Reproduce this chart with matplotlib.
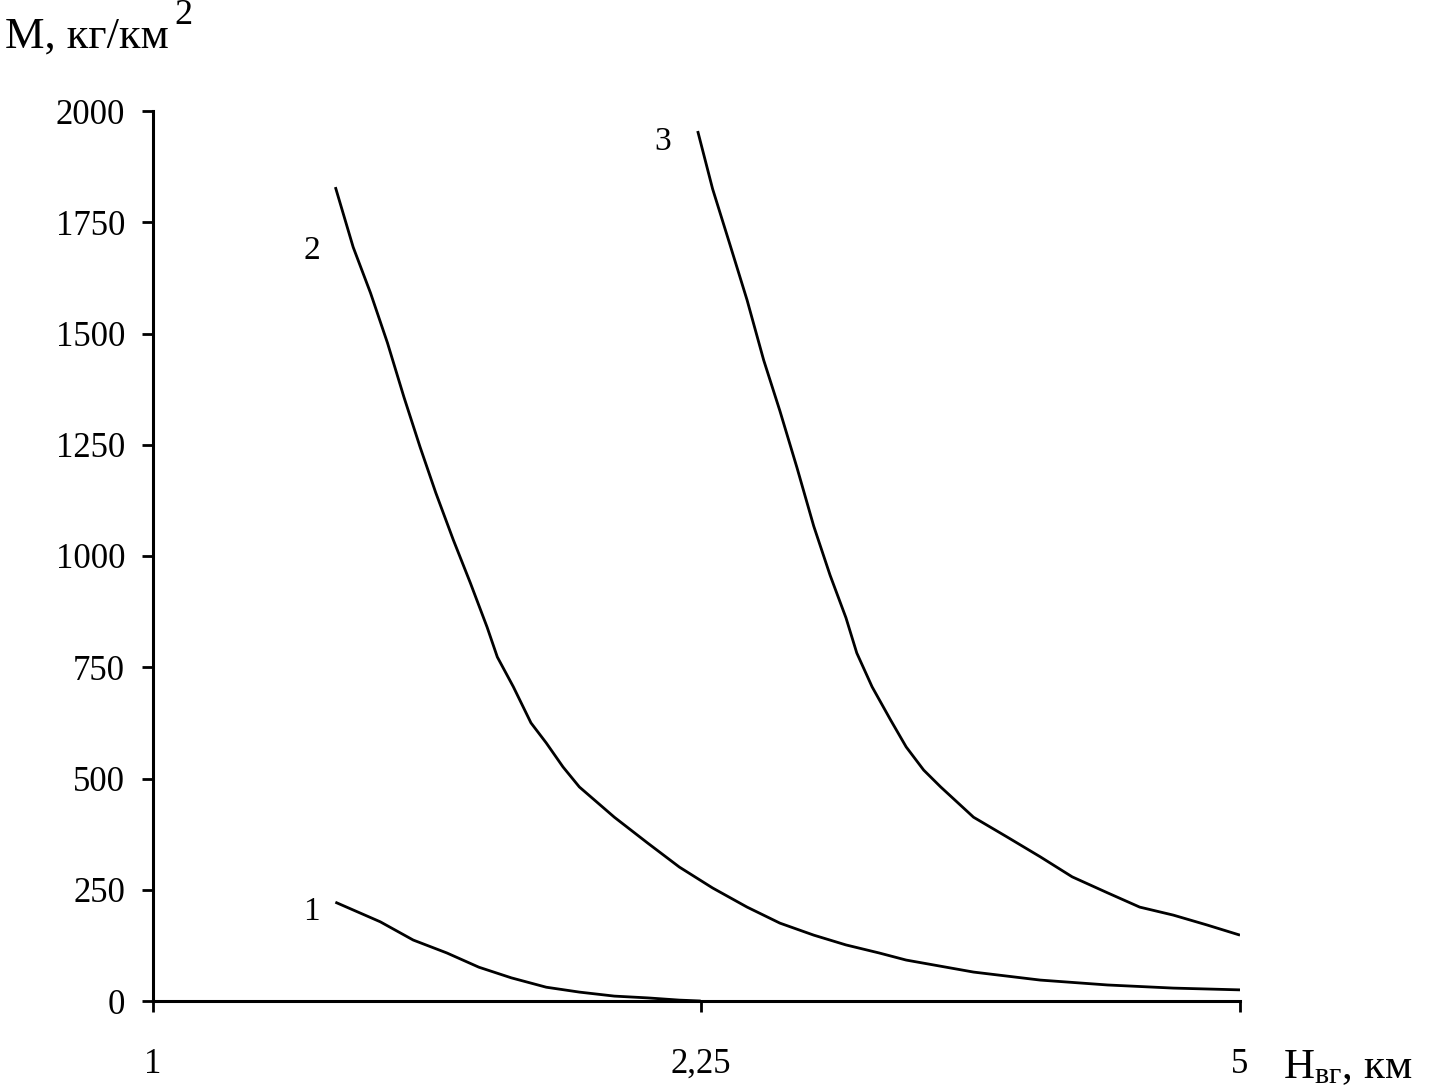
import matplotlib

matplotlib.use("Agg")
import matplotlib.pyplot as plt
from matplotlib.ticker import FixedLocator, NullLocator

# curve 1
h1 = [1.31, 1.40, 1.47, 1.545, 1.62, 1.70, 1.79, 1.88, 1.98, 2.08, 2.18, 2.25]
m1 = [222, 178, 137, 108, 76, 52, 31, 20, 11, 7, 2, 0]

# curve 2
h2 = [1.31, 1.345, 1.38, 1.415, 1.45, 1.485, 1.52, 1.56, 1.60, 1.64, 1.665, 1.705,
      1.75, 1.79, 1.835, 1.88, 1.98, 2.08, 2.18, 2.29, 2.41, 2.53, 2.66, 2.79,
      2.93, 3.05, 3.37, 3.72, 4.11, 4.53, 5.0]
m2 = [1829, 1694, 1591, 1479, 1357, 1245, 1142, 1036, 939, 840, 773, 706,
      625, 580, 526, 481, 413, 355, 301, 254, 211, 175, 148, 126,
      108, 92, 65, 47, 36, 29, 25]

# curve 3
h3 = [2.24, 2.29, 2.35, 2.41, 2.47, 2.53, 2.595, 2.66, 2.725, 2.79, 2.835, 2.90,
      2.98, 3.05, 3.13, 3.21, 3.37, 3.54, 3.72, 3.90, 4.11, 4.31, 4.53, 4.76, 5.0]
m3 = [1955, 1825, 1699, 1575, 1440, 1326, 1198, 1067, 957, 861, 782, 706,
      632, 571, 519, 481, 413, 369, 324, 279, 243, 211, 193, 171, 148]

x_ticks = [1, 2.25, 5]
x_tick_labels = ["1", "2,25", "5"]
y_ticks = [0, 250, 500, 750, 1000, 1250, 1500, 1750, 2000]
curve_names = ["1", "2", "3"]

plt.rcParams["font.family"] = ["Liberation Serif", "DejaVu Serif"]
plt.rcParams["mathtext.fontset"] = "custom"
plt.rcParams["mathtext.rm"] = "Liberation Serif"
plt.rcParams["mathtext.it"] = "Liberation Serif"

fig = plt.figure(figsize=(14.3, 10.89), dpi=100)
ax = fig.add_axes([153 / 1430, 1 - 1001 / 1089, (1240 - 153) / 1430, (1001 - 111) / 1089])

curves = [(h1, m1), (h2, m2), (h3, m3)]
offsets = [(-17, -7), (-17, -46), (-25, -8)]
for (h, m), name, off in zip(curves, curve_names, offsets):
    ax.plot(h, m, color="black", lw=2.0, solid_capstyle="butt")
    ax.annotate(name, xy=(h[0], m[0]), xytext=off, textcoords="offset points",
                ha="center", va="center", fontsize=24)

ax.set_xscale("log")
ax.set_xlim(1, 5)
ax.set_ylim(0, 2000)
ax.xaxis.set_major_locator(FixedLocator(x_ticks))
ax.xaxis.set_minor_locator(NullLocator())
ax.set_xticklabels(x_tick_labels)
ax.set_yticks(y_ticks)

for side in ("top", "right"):
    ax.spines[side].set_visible(False)
for side in ("left", "bottom"):
    ax.spines[side].set_linewidth(2.2)
ax.tick_params(axis="both", direction="out", length=8, width=2, labelsize=25)
ax.tick_params(axis="x", pad=26)
ax.tick_params(axis="y", pad=12)

fig.text(5 / 1430, 1 - 48 / 1089, "M, кг/км", fontsize=32, ha="left", va="baseline")
fig.text(174 / 1430, 1 - 24 / 1089, "2", fontsize=26, ha="left", va="baseline")
fig.text(1283 / 1430, 1 - 1078 / 1089, r"H$_{\mathrm{вг}}$, км", fontsize=31, ha="left", va="baseline")

fig.savefig("out.png", dpi=100)
